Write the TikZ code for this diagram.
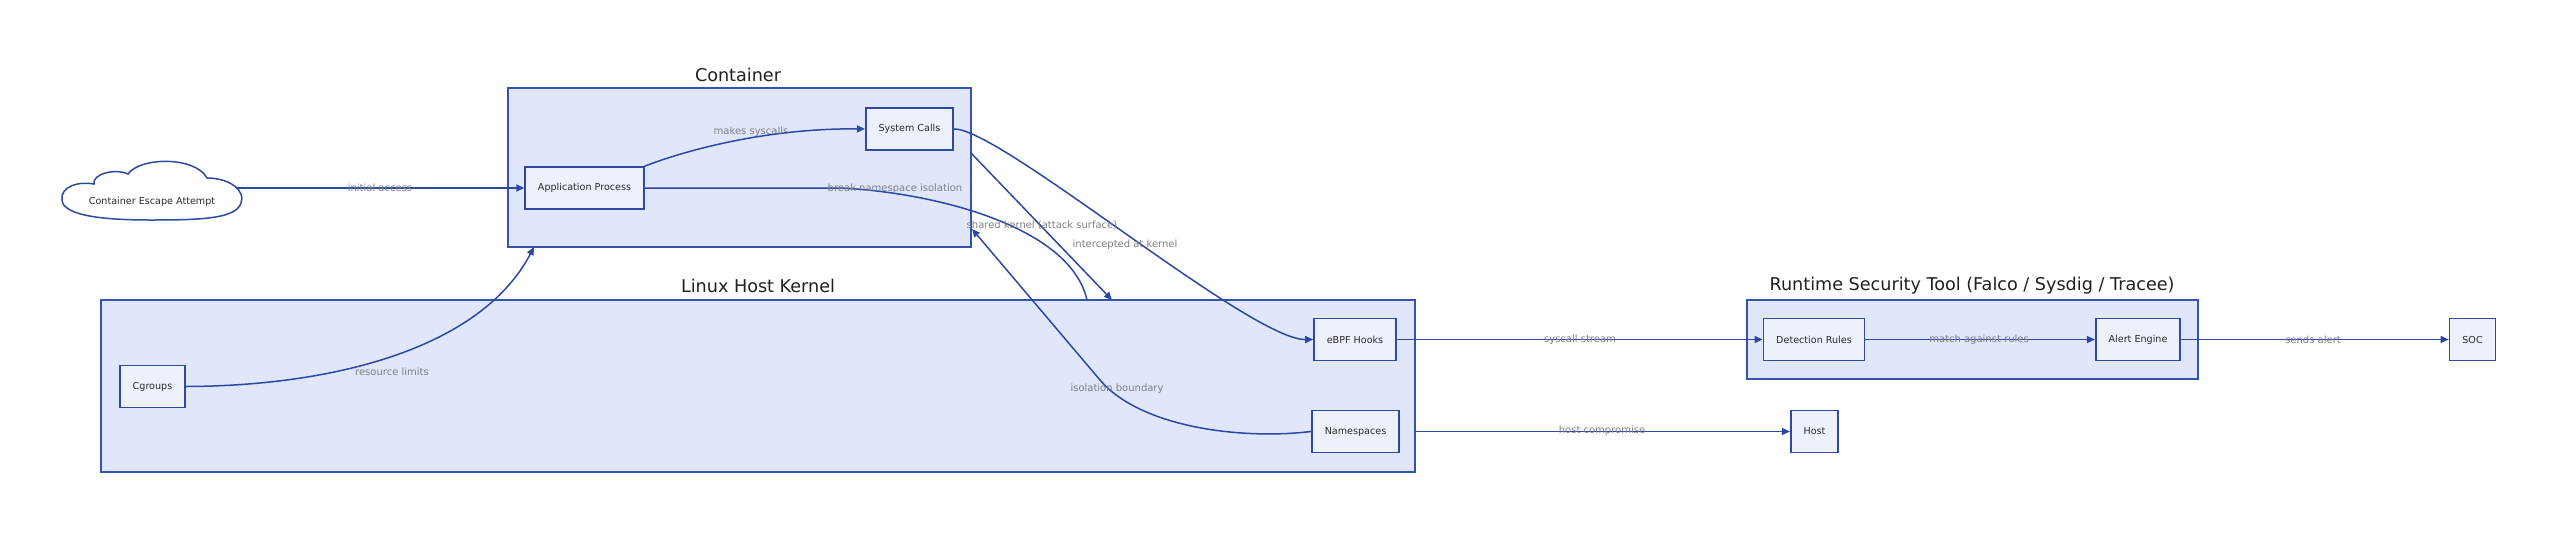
\documentclass[tikz,border=0pt]{standalone}
\usepackage{fontspec}
\setmainfont{DejaVu Sans}
\usetikzlibrary{arrows.meta,positioning}
\definecolor{clfill}{HTML}{E1E7FB}
\definecolor{clline}{HTML}{3552AE}
\definecolor{ndfill}{HTML}{EDF1FC}
\definecolor{ndline}{HTML}{2E4A9E}
\definecolor{edgeblue}{HTML}{2B48A3}
\definecolor{lblgray}{HTML}{7C7F88}
\definecolor{txtdark}{HTML}{2A2A2A}
\tikzset{
  cluster/.style={draw=clline, fill=clfill, line width=1.5pt},
  clustertitle/.style={font=\fontsize{17.6}{20}\selectfont, text=black!88},
  box/.style={draw=ndline, fill=ndfill, line width=1.7pt, minimum height=42pt,
    inner xsep=12.8pt, font=\fontsize{9.6}{11}\selectfont, text=txtdark},
  flow/.style={draw=edgeblue, line width=1.5pt, -{Triangle[length=8pt,width=7pt]}},
  lbl/.style={font=\fontsize{10}{12}\selectfont, text=lblgray, inner sep=1pt},
}
\begin{document}
\begin{tikzpicture}[x=1pt,y=-1pt]
\useasboundingbox (0,0) rectangle (2560,536);
% subgraphs
\node[cluster, minimum width=463pt, minimum height=159pt] (container) at (739.5,167.5) {};
\node[cluster, minimum width=1314pt, minimum height=172pt] (kernel) at (758,386) {};
\node[cluster, minimum width=451pt, minimum height=79pt] (runtime) at (1972.5,339.5) {};
\node[clustertitle] (containerT) at (738,75) {Container};
\node[clustertitle] (kernelT) at (758,286) {Linux Host Kernel};
\node[clustertitle] (runtimeT) at (1972,286) {Runtime Security Tool (Falco / Sysdig / Tracee)};
% attacker cloud
\draw[ndline, line width=1.5pt, fill=white]
  (62,200) .. controls (60,186) and (80,181) .. (94,184)
  .. controls (92,174) and (115,168) .. (128,174)
  .. controls (140,157) and (195,156) .. (207,178)
  .. controls (230,178) and (246,191) .. (241,203)
  .. controls (236,219) and (200,220) .. (150,220)
  .. controls (95,220) and (63,214) .. (62,200);
\node[font=\fontsize{9.6}{11}\selectfont, text=txtdark] (escape) at (152,202) {Container Escape Attempt};
% nodes
\node[box] (app) at (584.5,188) {Application Process};
\node[box] (syscalls) at (909.5,129) {System Calls};
\node[box] (cgroups) at (152.5,386.5) {Cgroups};
\node[box] (ebpf) at (1355,339.5) {eBPF Hooks};
\node[box] (namesp) at (1355.5,431.5) {Namespaces};
\node[box] (rules) at (1814,339.5) {Detection Rules};
\node[box] (alert) at (2138,339.5) {Alert Engine};
\node[box] (soc) at (2472.5,339.5) {SOC};
\node[box] (host) at (1814.5,431.5) {Host};
% free ends on the subgraph borders
\coordinate (escR) at (236,188);
\coordinate (contR) at (971,153);
\coordinate (contBR) at (972,229);
\coordinate (contBL) at (534,247);
\coordinate (kernTopA) at (1087,300);
\coordinate (kernTopB) at (1112,300);
\coordinate (kernR) at (1415,431.5);
% edges
\draw[flow] (escR) -- (app.west);
\draw[flow] (app.north east) .. controls (700,145) and (780,128) .. (syscalls.west);
\draw[flow, -] (app.east) -- (840,188) .. controls (930,192) and (1070,225) .. (kernTopA);
\draw[flow] (contR) -- (kernTopB);
\draw[flow] (syscalls.east) .. controls (1000,128) and (1250,340) .. (ebpf.west);
\draw[flow] (namesp.west) .. controls (1240,440) and (1140,427) .. (1100,380) -- (contBR);
\draw[flow] (cgroups.east) .. controls (330,386) and (480,350) .. (contBL);
\draw[flow] (ebpf.east) -- (rules.west);
\draw[flow] (rules.east) -- (alert.west);
\draw[flow] (alert.east) -- (soc.west);
\draw[flow] (kernR) -- (host.west);
% edge labels
\node[lbl] at (380,188) {initial access};
\node[lbl] at (751,132) {makes syscalls};
\node[lbl] at (895,189) {break namespace isolation};
\node[lbl] at (1042,225) {shared kernel (attack surface)};
\node[lbl] at (1125,245) {intercepted at kernel};
\node[lbl] at (392,372) {resource limits};
\node[lbl] at (1117,389) {isolation boundary};
\node[lbl] at (1580,340) {syscall stream};
\node[lbl] at (1979,340) {match against rules};
\node[lbl] at (2313,340) {sends alert};
\node[lbl] at (1602,431) {host compromise};
\end{tikzpicture}
\end{document}
